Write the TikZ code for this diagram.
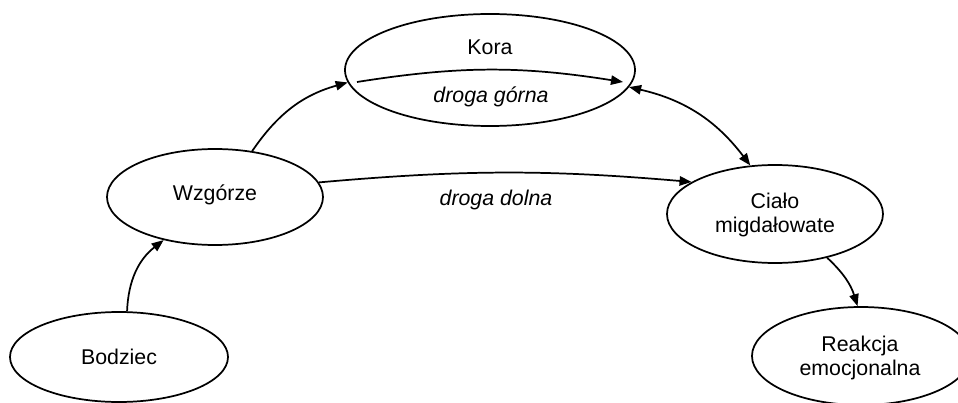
\documentclass[tikz,border=0pt]{standalone}
\usepackage{fontspec}
\setmainfont{Liberation Sans}
\usetikzlibrary{shapes.geometric, arrows.meta}
\tikzstyle{regionStyle} = [draw=black, line width=1.3pt, ellipse, inner sep=0pt]
\tikzstyle{regionText} = [font=\fontsize{16}{18}\selectfont, align=center, inner sep=0pt]
\tikzstyle{routeText} = [font=\fontsize{16}{18}\selectfont\itshape, inner sep=0pt]
\tikzstyle{pathLine} = [draw=black, line width=1.3pt, -{Triangle[length=9pt, width=7pt]}]
\tikzstyle{twoWayLine} = [draw=black, line width=1.3pt, {Triangle[length=9pt, width=7pt]}-{Triangle[length=9pt, width=7pt]}]
\newcommand{\regionNode}[5]{\node [regionStyle, minimum width = {#4*1.5pt}, minimum height = {#5*1.5pt}] (#1) at (#2, #3) {};}

\begin{document}
\begin{tikzpicture}[x=0.75pt, y=-0.75pt]
  \clip (0,0) rectangle (958,403);
  \useasboundingbox (0,0) rectangle (958,403);

  \regionNode{kora}{490}{70}{145}{56}
  \regionNode{wzgorze}{215}{197}{108}{48}
  \regionNode{bodziec}{119}{357}{109}{45}
  \regionNode{cialo}{775}{214}{108}{49}
  \regionNode{reakcja}{861}{356}{109}{49}

  \node [regionText] (koraLabel) at (490,47) {Kora};
  \node [regionText] (wzgorzeLabel) at (215,195) {Wzgórze};
  \node [regionText] (bodziecLabel) at (119,357) {Bodziec};
  \node [regionText] (cialoLabel) at (775,215) {Ciało\\migdałowate};
  \node [regionText] (reakcjaLabel) at (860,358) {Reakcja\\emocjonalna};
  \node [routeText] (goraLabel) at (491,97) {droga górna};
  \node [routeText] (dolLabel) at (496,200) {droga dolna};

  \coordinate (goraStart) at (357,82);
  \coordinate (goraEnd) at (623,82);

  \draw [pathLine] (goraStart) to [bend left=9] (goraEnd);
  \draw [pathLine] (bodziec.80) to [bend left=25] (wzgorze.220);
  \draw [pathLine] (wzgorze.51) to [bend left=20] (kora.185);
  \draw [pathLine] (wzgorze.8) to [bend left=5] (cialo.159);
  \draw [twoWayLine] (kora.-7) to [bend left=20] (cialo.117);
  \draw [pathLine] (cialo.-40) to [bend left=15] (reakcja.94);
\end{tikzpicture}
\end{document}
